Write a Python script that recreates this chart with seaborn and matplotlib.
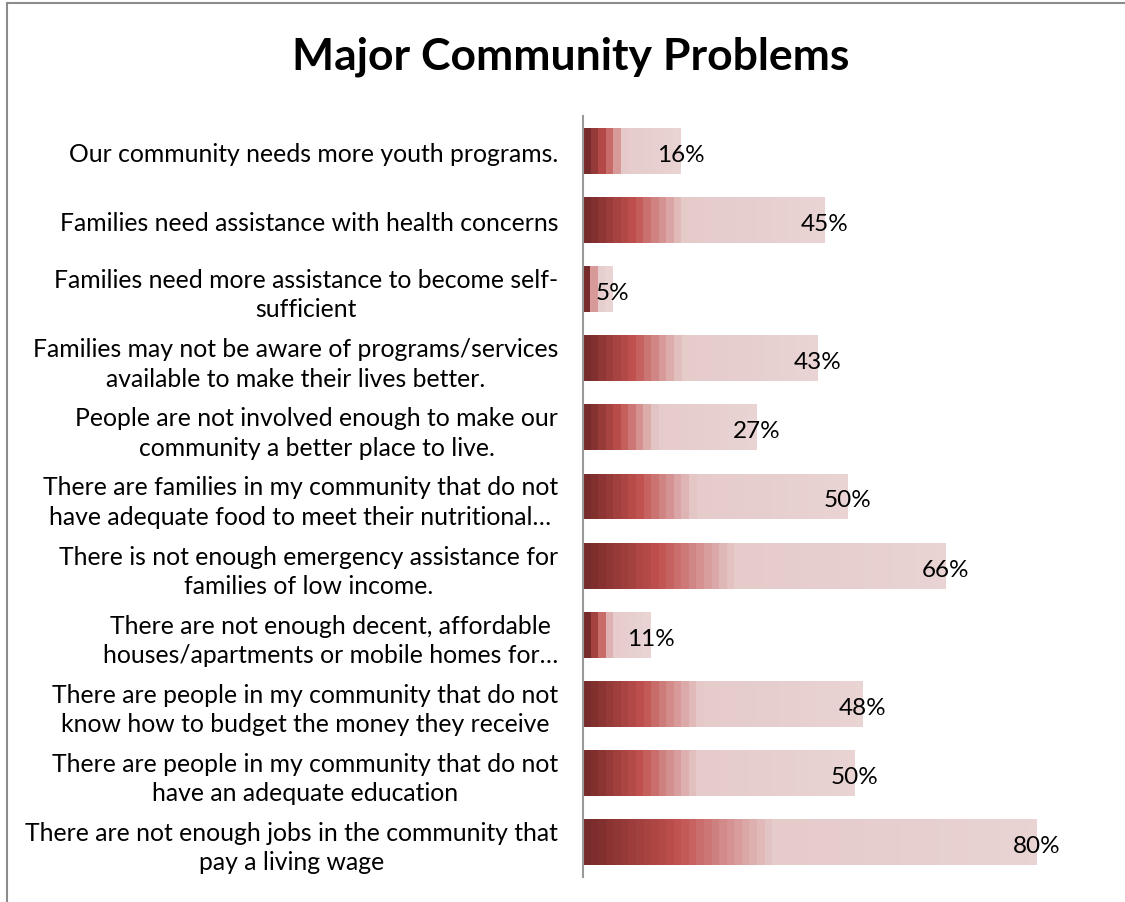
import numpy as np
import pandas as pd
import matplotlib
matplotlib.use("Agg")
import matplotlib.pyplot as plt
from matplotlib.colors import LinearSegmentedColormap
from matplotlib.patches import Rectangle
import seaborn as sns

# ---- data ----
categories = [
    "Our community needs more youth programs.",
    "Families need assistance with health concerns",
    "Families need more assistance to become self-\nsufficient",
    "Families may not be aware of programs/services\navailable to make their lives better.",
    "People are not involved enough to make our\ncommunity a better place to live.",
    "There are families in my community that do not\nhave adequate food to meet their nutritional…",
    "There is not enough emergency assistance for\nfamilies of low income.",
    "There are not enough decent, affordable\nhouses/apartments or mobile homes for…",
    "There are people in my community that do not\nknow how to budget the money they receive",
    "There are people in my community that do not\nhave an adequate education",
    "There are not enough jobs in the community that\npay a living wage",
]
bar_values = [17.2, 42.7, 5.2, 41.4, 30.6, 46.6, 64.0, 11.9, 49.3, 48.0, 80.0]
value_labels = ["16%", "45%", "5%", "43%", "27%", "50%", "66%", "11%", "48%", "50%", "80%"]
title = "Major Community Problems"

sns.set_theme(style="white")
plt.rcParams["font.family"] = ["Lato", "DejaVu Sans"]

fig = plt.figure(figsize=(11.25, 9.03), dpi=100)
ax = fig.add_axes([583 / 1125, 25.5 / 903, 510 / 1125, 760 / 903])

df = pd.DataFrame({"category": categories, "value": bar_values})
sns.barplot(data=df, x="value", y="category", orient="h", ax=ax,
            color="#e9d3d3", width=0.665, saturation=1, linewidth=0)

# gradient fill (Excel-like banded gradient), clipped to each bar
cmap = LinearSegmentedColormap.from_list(
    "grad", [(0.0, "#772b2a"), (0.2, "#c0504d"), (0.42, "#e6cbcb"), (1.0, "#e9d3d3")])
px_per_unit = 510 / 90
for patch in list(ax.patches):
    x0, y0 = patch.get_x(), patch.get_y()
    w, h = patch.get_width(), patch.get_height()
    nb = max(3, int(round(w * px_per_unit / 7.5)))
    grad = np.linspace(0, 1, nb).reshape(1, -1)
    im = ax.imshow(grad, extent=[x0, x0 + w, y0 + h, y0], aspect="auto",
                   cmap=cmap, interpolation="nearest", zorder=2)
    im.set_clip_path(patch)

ax.set_xlim(0, 90)
ax.set_ylim(len(categories) - 0.5, -0.5)

for i, (v, lab) in enumerate(zip(bar_values, value_labels)):
    ax.text(v, i + 0.05, lab, ha="center", va="center", fontsize=17.5, color="black", zorder=5)

ax.set_xlabel("")
ax.set_ylabel("")
ax.set_xticks([])
for s in ["top", "right", "bottom"]:
    ax.spines[s].set_visible(False)
ax.spines["left"].set_color("#9a9a9a")
ax.spines["left"].set_linewidth(1.5)
ax.spines["left"].set_zorder(6)
ax.tick_params(axis="y", length=0, pad=18, labelsize=17.8, labelcolor="black")
for t in ax.get_yticklabels():
    t.set_multialignment("center")
    t.set_linespacing(1.33)

fig.text(571 / 1125, 1 - 57 / 903, title, ha="center", va="center",
         fontsize=32, fontweight="bold", color="black")

fig.patches.append(Rectangle((7 / 1125, -0.1), 2, 1 - 4 / 903 + 0.1,
                             transform=fig.transFigure, fill=False,
                             edgecolor="#8c8c8c", linewidth=1.5))

fig.savefig("out.png", dpi=100)
